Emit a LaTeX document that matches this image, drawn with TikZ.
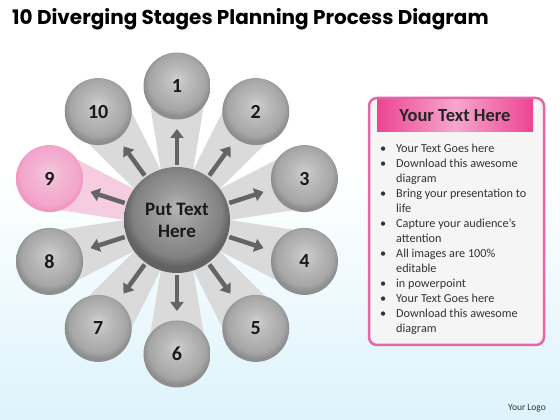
\documentclass[tikz,border=0pt]{standalone}
\usepackage{fontspec}
\setmainfont{Carlito}
\newfontfamily\titlefont{Poppins}
\usepackage{tikz}
\usetikzlibrary{calc, arrows.meta, shadings}

\definecolor{bgblue}{HTML}{DDF3FC}
\definecolor{beamgray}{HTML}{DADADA}
\definecolor{beampink}{HTML}{F6CCE0}
\definecolor{satlight}{HTML}{D0D0D0}
\definecolor{satmid}{HTML}{BDBDBD}
\definecolor{satedge}{HTML}{A6A6A6}
\definecolor{satrim}{HTML}{8E8E8E}
\definecolor{pinklight}{HTML}{F5C8DE}
\definecolor{pinkmid}{HTML}{F2B6D3}
\definecolor{pinkedge}{HTML}{F4A4CB}
\definecolor{pinkrim}{HTML}{EE98C2}
\definecolor{hublight}{HTML}{B6B6B6}
\definecolor{hubmid}{HTML}{9E9E9E}
\definecolor{hubedge}{HTML}{818181}
\definecolor{hubrim}{HTML}{626262}
\definecolor{arrowgray}{HTML}{646464}
\definecolor{panelpink}{HTML}{E565A7}
\definecolor{headpink}{HTML}{EC4592}
\definecolor{headlight}{HTML}{F7A6CE}

\pgfdeclareradialshading{satball}{\pgfpoint{0bp}{5bp}}{color(0bp)=(satlight); color(8bp)=(satmid); color(21bp)=(satedge); color(25bp)=(satrim); color(50bp)=(satrim)}
\pgfdeclareradialshading{pinkball}{\pgfpoint{0bp}{4bp}}{color(0bp)=(pinklight); color(10bp)=(pinkmid); color(22bp)=(pinkedge); color(25bp)=(pinkrim); color(50bp)=(pinkrim)}
\pgfdeclareradialshading{hubball}{\pgfpoint{0bp}{6bp}}{color(0bp)=(hublight); color(8bp)=(hubmid); color(21bp)=(hubedge); color(25bp)=(hubrim); color(50bp)=(hubrim)}

\tikzset{
  sat/.style={circle, inner sep=0pt, minimum size=67pt, shading=satball,
    font=\fontsize{20}{20}\selectfont\bfseries, text=black!90},
  beam/.style={fill=beamgray},
  arr/.style={line width=4.5pt, draw=arrowgray, -{Triangle[width=13pt,length=9pt]}},
}

\begin{document}
\begin{tikzpicture}[x=1pt, y=1pt]
    % background
    \fill[white] (0,0) rectangle (560,420);
    \shade[top color=white, bottom color=bgblue] (0,0) rectangle (560,250);
    \useasboundingbox (0,0) rectangle (560,420);

    \node[anchor=base west, inner sep=0pt, font=\titlefont\fontsize{20}{20}\selectfont\bfseries] (title) at (12,395) {10 Diverging Stages Planning Process Diagram};

    \coordinate (c) at (177,200);
    \coordinate (p1) at ($(c) + (90:134)$);
    \coordinate (p2) at ($(c) + (54:134)$);
    \coordinate (p3) at ($(c) + (18:134)$);
    \coordinate (p4) at ($(c) + (-18:134)$);
    \coordinate (p5) at ($(c) + (-54:134)$);
    \coordinate (p6) at ($(c) + (-90:134)$);
    \coordinate (p7) at ($(c) + (-126:134)$);
    \coordinate (p8) at ($(c) + (-162:134)$);
    \coordinate (p9) at ($(c) + (162:134)$);
    \coordinate (p10) at ($(c) + (126:134)$);

    % beams
    \fill[beam] ($(c)!8pt!90:(p1)$) -- ($(p1)!30pt!-90:(c)$) -- ($(p1)!30pt!90:(c)$) -- ($(c)!8pt!-90:(p1)$) -- cycle;
    \fill[beam] ($(c)!8pt!90:(p2)$) -- ($(p2)!30pt!-90:(c)$) -- ($(p2)!30pt!90:(c)$) -- ($(c)!8pt!-90:(p2)$) -- cycle;
    \fill[beam] ($(c)!8pt!90:(p3)$) -- ($(p3)!30pt!-90:(c)$) -- ($(p3)!30pt!90:(c)$) -- ($(c)!8pt!-90:(p3)$) -- cycle;
    \fill[beam] ($(c)!8pt!90:(p4)$) -- ($(p4)!30pt!-90:(c)$) -- ($(p4)!30pt!90:(c)$) -- ($(c)!8pt!-90:(p4)$) -- cycle;
    \fill[beam] ($(c)!8pt!90:(p5)$) -- ($(p5)!30pt!-90:(c)$) -- ($(p5)!30pt!90:(c)$) -- ($(c)!8pt!-90:(p5)$) -- cycle;
    \fill[beam] ($(c)!8pt!90:(p6)$) -- ($(p6)!30pt!-90:(c)$) -- ($(p6)!30pt!90:(c)$) -- ($(c)!8pt!-90:(p6)$) -- cycle;
    \fill[beam] ($(c)!8pt!90:(p7)$) -- ($(p7)!30pt!-90:(c)$) -- ($(p7)!30pt!90:(c)$) -- ($(c)!8pt!-90:(p7)$) -- cycle;
    \fill[beam] ($(c)!8pt!90:(p8)$) -- ($(p8)!30pt!-90:(c)$) -- ($(p8)!30pt!90:(c)$) -- ($(c)!8pt!-90:(p8)$) -- cycle;
    \fill[beam, fill=beampink] ($(c)!8pt!90:(p9)$) -- ($(p9)!30pt!-90:(c)$) -- ($(p9)!30pt!90:(c)$) -- ($(c)!8pt!-90:(p9)$) -- cycle;
    \fill[beam] ($(c)!8pt!90:(p10)$) -- ($(p10)!30pt!-90:(c)$) -- ($(p10)!30pt!90:(c)$) -- ($(c)!8pt!-90:(p10)$) -- cycle;

    % stages
    \node[sat] (s1) at (p1) {1};
    \node[sat] (s2) at (p2) {2};
    \node[sat] (s3) at (p3) {3};
    \node[sat] (s4) at (p4) {4};
    \node[sat] (s5) at (p5) {5};
    \node[sat] (s6) at (p6) {6};
    \node[sat] (s7) at (p7) {7};
    \node[sat] (s8) at (p8) {8};
    \node[sat, shading=pinkball] (s9) at (p9) {9};
    \node[sat] (s10) at (p10) {10};

    % arrows
    \draw[arr] ($(c)!55pt!(s1)$) -- ($(c)!91pt!(s1)$);
    \draw[arr] ($(c)!55pt!(s2)$) -- ($(c)!91pt!(s2)$);
    \draw[arr] ($(c)!55pt!(s3)$) -- ($(c)!91pt!(s3)$);
    \draw[arr] ($(c)!55pt!(s4)$) -- ($(c)!91pt!(s4)$);
    \draw[arr] ($(c)!55pt!(s5)$) -- ($(c)!91pt!(s5)$);
    \draw[arr] ($(c)!55pt!(s6)$) -- ($(c)!91pt!(s6)$);
    \draw[arr] ($(c)!55pt!(s7)$) -- ($(c)!91pt!(s7)$);
    \draw[arr] ($(c)!55pt!(s8)$) -- ($(c)!91pt!(s8)$);
    \draw[arr] ($(c)!55pt!(s9)$) -- ($(c)!91pt!(s9)$);
    \draw[arr] ($(c)!55pt!(s10)$) -- ($(c)!91pt!(s10)$);

    \node[sat, minimum size=106pt, shading=hubball, font=\fontsize{19}{22}\selectfont\bfseries, align=center] (hub) at (c) {Put Text\\Here};

    % text panel
    \draw[line width=2.5pt, draw=panelpink, fill=white!96!black, rounded corners=8pt] (369,75) rectangle (544,322);
    \shade[left color=headpink, right color=headpink, middle color=headlight] (377,288) rectangle (533,320);
    \node[font=\fontsize{18.5}{18.5}\selectfont\bfseries, text=black!85] (head) at (455,304) {Your Text Here};
    \node[anchor=north west, inner sep=0pt, font=\fontsize{12.2}{15}\selectfont, text=black!80] (list) at (377,278.5) {%
      \begin{tabular}{@{}p{19pt}@{}l@{}}
        \hspace{3pt}\textbullet & Your Text Goes here\\
        \hspace{3pt}\textbullet & Download this awesome\\
         & diagram\\
        \hspace{3pt}\textbullet & Bring your presentation to\\
         & life\\
        \hspace{3pt}\textbullet & Capture your audience’s\\
         & attention\\
        \hspace{3pt}\textbullet & All images are 100\%\\
         & editable\\
        \hspace{3pt}\textbullet & in powerpoint\\
        \hspace{3pt}\textbullet & Your Text Goes here\\
        \hspace{3pt}\textbullet & Download this awesome\\
         & diagram
      \end{tabular}};

    \node[font=\fontsize{9.5}{9.5}\selectfont, text=black!80] (logo) at (527,12) {Your Logo};
\end{tikzpicture}
\end{document}
